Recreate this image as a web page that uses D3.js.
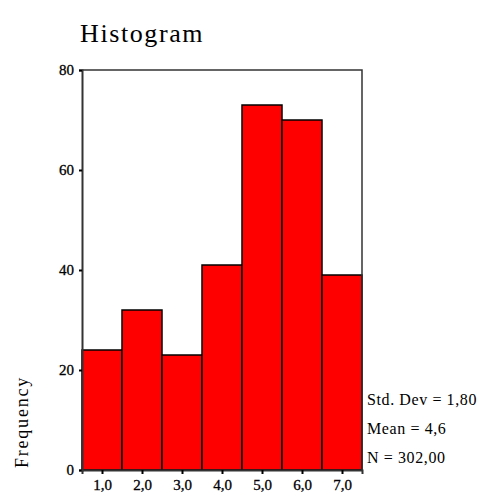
<!DOCTYPE html>
<html>
<head>
<meta charset="utf-8">
<script src="https://cdn.jsdelivr.net/npm/d3@7"></script>
<style>
  body { margin: 0; background: #fff; }
  text { font-family: "Liberation Serif", "DejaVu Serif", serif; fill: #000; }
</style>
</head>
<body>
<div id="chart"></div>
<script>
// Data
var binCenters = [1, 2, 3, 4, 5, 6, 7];
var frequencies = [24, 32, 23, 41, 73, 70, 39];
var yTicks = [0, 20, 40, 60, 80];
var statLines = ['Std. Dev = 1,80', 'Mean = 4,6', 'N = 302,00'];

var w = 485;
var h = 500;
var plotLeft = 82, plotRight = 362, plotTop = 70, plotBottom = 470;

var svg = d3.select('#chart').append('svg')
  .attr('width', w)
  .attr('height', h);

// Scales
var xScale = d3.scaleLinear().domain([0.5, 7.5]).range([plotLeft, plotRight]);
var yScale = d3.scaleLinear().domain([0, 80]).range([plotBottom, plotTop]);

// Title
svg.append('text')
  .attr('x', 80)
  .attr('y', 42)
  .style('font-size', '26px')
  .style('letter-spacing', '1.6px')
  .text('Histogram');

// Bars
svg.selectAll('rect.bar')
  .data(binCenters)
  .enter()
  .append('rect')
  .attr('class', 'bar')
  .attr('x', function (d) { return xScale(d - 0.5); })
  .attr('width', function (d) { return xScale(d + 0.5) - xScale(d - 0.5); })
  .attr('y', function (d, i) { return yScale(frequencies[i]); })
  .attr('height', function (d, i) { return yScale(0) - yScale(frequencies[i]); })
  .attr('fill', '#ff0000')
  .attr('stroke', '#000')
  .attr('stroke-width', 1.5);

// Frame (top and right)
svg.append('path')
  .attr('d', `M${plotLeft},${plotTop}H${plotRight}V${plotBottom}`)
  .attr('fill', 'none')
  .attr('stroke', '#333')
  .attr('stroke-width', 1.5);

// Y axis
var yAxis = d3.axisLeft(yScale).tickValues(yTicks).tickSize(3).tickPadding(5);
var gy = svg.append('g')
  .attr('transform', `translate(${plotLeft}, 0)`)
  .call(yAxis);
gy.select('.domain').attr('stroke', '#333').attr('stroke-width', 2);
gy.selectAll('.tick line').attr('stroke', '#000').attr('stroke-width', 2);
gy.selectAll('.tick text')
  .style('font-size', '15px')
  .style('font-family', '"Liberation Serif", serif')
  .style('stroke', '#000')
  .style('stroke-width', 0.3);

// X axis
var xAxis = d3.axisBottom(xScale)
  .tickValues(binCenters)
  .tickSize(4)
  .tickPadding(5)
  .tickFormat(function (d) { return d3.format('.1f')(d).replace('.', ','); });
var gx = svg.append('g')
  .attr('transform', `translate(0, ${plotBottom})`)
  .call(xAxis);
gx.select('.domain').attr('stroke', '#333').attr('stroke-width', 2);
gx.selectAll('.tick line').attr('stroke', '#000').attr('stroke-width', 2);
gx.selectAll('.tick text')
  .style('font-size', '15px')
  .style('font-family', '"Liberation Serif", serif')
  .style('stroke', '#000')
  .style('stroke-width', 0.3);

// Y label
svg.append('text')
  .attr('transform', 'translate(28, 422) rotate(-90)')
  .attr('text-anchor', 'middle')
  .style('font-size', '18px')
  .style('letter-spacing', '1.8px')
  .text('Frequency');

// Stats
svg.selectAll('text.stat')
  .data(statLines)
  .enter()
  .append('text')
  .attr('class', 'stat')
  .attr('x', 367)
  .attr('y', function (d, i) { return 405 + i * 29; })
  .style('font-size', '16px')
  .style('letter-spacing', '0.6px')
  .text(function (d) { return d; });
</script>
</body>
</html>
